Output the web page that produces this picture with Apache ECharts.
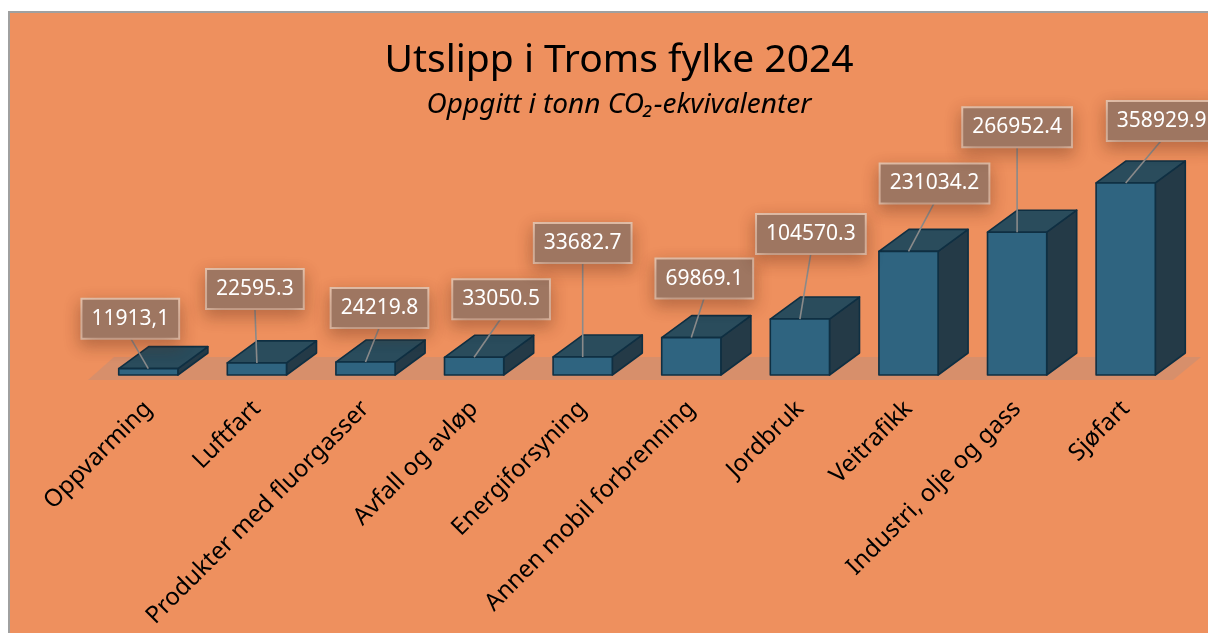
<!DOCTYPE html>
<html>
<head>
<meta charset="utf-8">
<title>Utslipp i Troms fylke 2024</title>
<script src="https://cdn.jsdelivr.net/npm/echarts@6/dist/echarts.min.js"></script>
<style>
  html, body { margin: 0; padding: 0; background: #fff; }
  #myChart { width: 1208px; height: 633px; }
</style>
</head>
<body>
<div id="myChart"></div>
<script>
// kategorier og verdier (tonn CO2-ekvivalenter)
const categories = ['Oppvarming', 'Luftfart', 'Produkter med fluorgasser', 'Avfall og avløp', 'Energiforsyning',
  'Annen mobil forbrenning', 'Jordbruk', 'Veitrafikk', 'Industri, olje og gass', 'Sjøfart']
const values = [11913.1, 22595.3, 24219.8, 33050.5, 33682.7, 69869.1, 104570.3, 231034.2, 266952.4, 358929.9]
// etikettene slik de står i figuren (den første med komma)
const labelTexts = ['11913,1', '22595.3', '24219.8', '33050.5', '33682.7', '69869.1', '104570.3', '231034.2', '266952.4', '358929.9']
// forskyvning av etikettboksene fra toppen av søylen (px), som i Excel-figuren
const labelOffsets = [[-18, -31], [-2, -55], [14, -35], [27, -39], [0, -95], [13, -40], [11, -66], [26, -49], [0, -86], [36, -43]]

// dybde på 3D-søylene
const DX = 30
const DY = -22

const myChart = echarts.init(document.getElementById('myChart'))

function renderBar (params, api) {
  const idx = api.value(0)
  const top = api.coord([idx, api.value(1)])
  const base = api.coord([idx, 0])
  const bw = api.size([1, 0])[0] * 0.545
  const x0 = top[0] - bw / 2
  const x1 = top[0] + bw / 2
  const yT = top[1]
  const yB = base[1]
  const stroke = { stroke: '#0f2f42', lineWidth: 1.6, lineJoin: 'round' }
  return {
    type: 'group',
    children: [
      {
        type: 'polygon',
        shape: { points: [[x1, yT], [x1 + DX, yT + DY], [x1 + DX, yB + DY], [x1, yB]] },
        style: Object.assign({ fill: '#243a47' }, stroke)
      },
      {
        type: 'polygon',
        shape: { points: [[x0, yT], [x1, yT], [x1 + DX, yT + DY], [x0 + DX, yT + DY]] },
        style: Object.assign({ fill: '#2a4c5c' }, stroke)
      },
      {
        type: 'rect',
        shape: { x: x0, y: yT, width: bw, height: yB - yT },
        style: Object.assign({ fill: '#2f6480' }, stroke)
      }
    ]
  }
}

function renderLabel (params, api) {
  const idx = api.value(0)
  const top = api.coord([idx, api.value(1)])
  const off = labelOffsets[params.dataIndex]
  const bx = top[0] + off[0]
  const by = top[1] + off[1]
  return {
    type: 'group',
    children: [
      {
        type: 'line',
        shape: { x1: bx, y1: by, x2: top[0], y2: top[1] },
        style: { stroke: '#8a8a8a', lineWidth: 1.6 }
      },
      {
        type: 'text',
        style: {
          text: labelTexts[params.dataIndex],
          x: bx,
          y: by,
          align: 'center',
          verticalAlign: 'bottom',
          fill: '#fff',
          fontFamily: 'Noto Sans',
          fontSize: 21,
          lineHeight: 24,
          backgroundColor: '#9e7661',
          borderColor: '#e6c3ad',
          borderWidth: 2,
          padding: [7, 9, 7, 9],
          shadowBlur: 16,
          shadowColor: 'rgba(90,40,20,0.35)',
          shadowOffsetY: 6
        }
      }
    ]
  }
}

// gulvet under søylene
function renderFloor (params, api) {
  const cs = params.coordSys
  const yb = cs.y + cs.height + 5
  const xl = cs.x - 6
  const xr = cs.x + cs.width - 7
  return {
    type: 'polygon',
    shape: { points: [[xl, yb], [xr, yb], [xr + 28, yb - 23], [xl + 26, yb - 23]] },
    style: { fill: '#d78f6b' }
  }
}

const barData = values.map((v, i) => [i, v])

myChart.setOption({
  backgroundColor: '#fff',
  animation: false,
  graphic: [{
    type: 'rect',
    z: -10,
    shape: { x: 9, y: 12, width: 1300, height: 700 },
    style: { fill: '#ee905e', stroke: '#a0a0a0', lineWidth: 2 }
  }],
  title: [
    {
      text: 'Utslipp i Troms fylke 2024',
      left: 614,
      top: 36,
      textAlign: 'center',
      textStyle: { fontFamily: 'Noto Sans', fontSize: 39, fontWeight: 'normal', color: '#000' }
    },
    {
      text: 'Oppgitt i tonn CO₂-ekvivalenter',
      left: 614,
      top: 86,
      textAlign: 'center',
      textStyle: { fontFamily: 'Noto Sans', fontSize: 28, fontStyle: 'italic', fontWeight: 'normal', color: '#000' }
    }
  ],
  grid: { left: 94, width: 1086, top: 161, height: 214 },
  xAxis: {
    type: 'category',
    data: categories,
    axisLine: { show: false },
    axisTick: { show: false },
    axisLabel: {
      rotate: 45,
      margin: 30,
      interval: 0,
      color: '#000',
      fontFamily: 'Noto Sans',
      fontSize: 24
    }
  },
  yAxis: {
    type: 'value',
    min: 0,
    max: 400000,
    show: false,
    splitLine: { show: false }
  },
  series: [
    { type: 'custom', z: 1, data: [[0]], renderItem: renderFloor, silent: true },
    { type: 'custom', z: 2, data: barData, renderItem: renderBar },
    { type: 'custom', z: 5, data: barData, renderItem: renderLabel }
  ]
})
</script>
</body>
</html>
